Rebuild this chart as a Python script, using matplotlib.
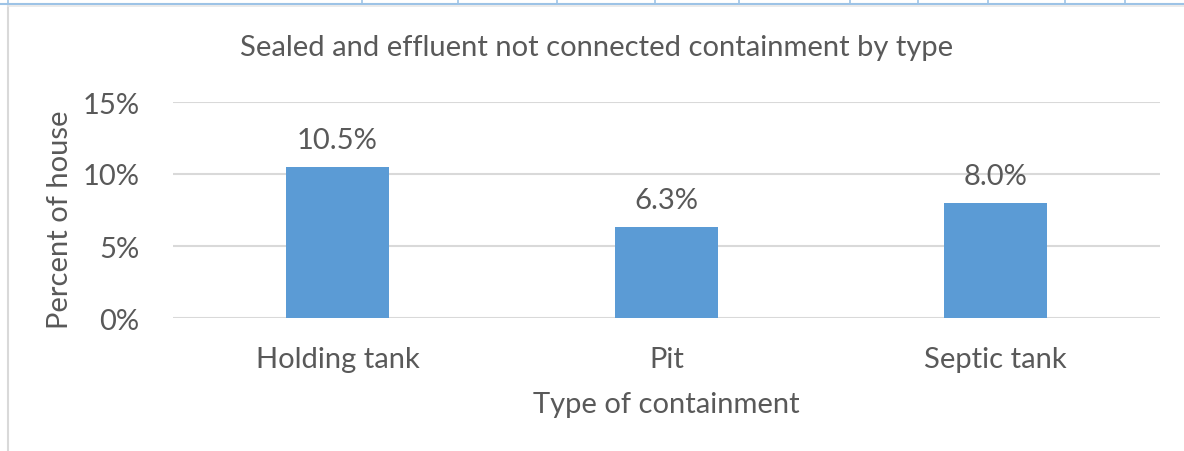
import matplotlib.pyplot as plt
from matplotlib.lines import Line2D
from matplotlib.ticker import PercentFormatter

categories = ['Holding tank', 'Pit', 'Septic tank']
values = [10.5, 6.3, 8.0]
yticks = [0, 5, 10, 15]

# spreadsheet cell borders visible above the chart (pixel x positions)
cell_lines_x = [8, 362, 458, 557, 655, 739, 850, 918, 988, 1065, 1125]

W, H = 1184, 452
txt = '#595959'
plt.rcParams['font.family'] = ['Lato', 'DejaVu Sans']

fig = plt.figure(figsize=(W / 100, H / 100), dpi=100)
ax = fig.add_axes([173 / W, 1 - 319 / H, (1160 - 173) / W, (319 - 103) / H])

bars = ax.bar(range(len(categories)), values, width=0.313, color='#5B9BD5', zorder=3)
ax.bar_label(bars, labels=[f'{v:.1f}%' for v in values], padding=10,
             fontsize=21, color=txt)

ax.set_xlim(-0.5, len(categories) - 0.5)
ax.set_ylim(0, 15)
ax.set_yticks(yticks)
ax.yaxis.set_major_formatter(PercentFormatter(decimals=0))
ax.set_xticks(range(len(categories)))
ax.set_xticklabels(categories)
ax.tick_params(length=0, labelsize=21, labelcolor=txt)
ax.tick_params(axis='x', pad=20)
ax.tick_params(axis='y', pad=24)
ax.grid(axis='y', color='#D9D9D9', linewidth=1.5, zorder=0)
for s in ax.spines.values():
    s.set_visible(False)

ax.set_xlabel('Type of containment', fontsize=21, color=txt, labelpad=14)
ax.set_ylabel('Percent of house', fontsize=21, color=txt)
ax.yaxis.set_label_coords(-0.101, 0.458)
fig.text(597 / W, 1 - 48 / H, 'Sealed and effluent not connected containment by type',
         ha='center', va='center', fontsize=21, color=txt)

# sheet gridlines and chart border
fig.add_artist(Line2D([0, 1], [1 - 5 / H, 1 - 5 / H], color='#9DC3E6', lw=1.5))
for x in cell_lines_x:
    fig.add_artist(Line2D([x / W, x / W], [1, 1 - 5 / H], color='#9DC3E6', lw=1.2))
fig.add_artist(Line2D([8 / W, 8 / W], [0, 1 - 7 / H], color='#D9D9D9', lw=1.5))
fig.add_artist(Line2D([8 / W, 1], [1 - 7 / H, 1 - 7 / H], color='#E7E7E7', lw=1.2))

fig.savefig('out.png', dpi=100)
